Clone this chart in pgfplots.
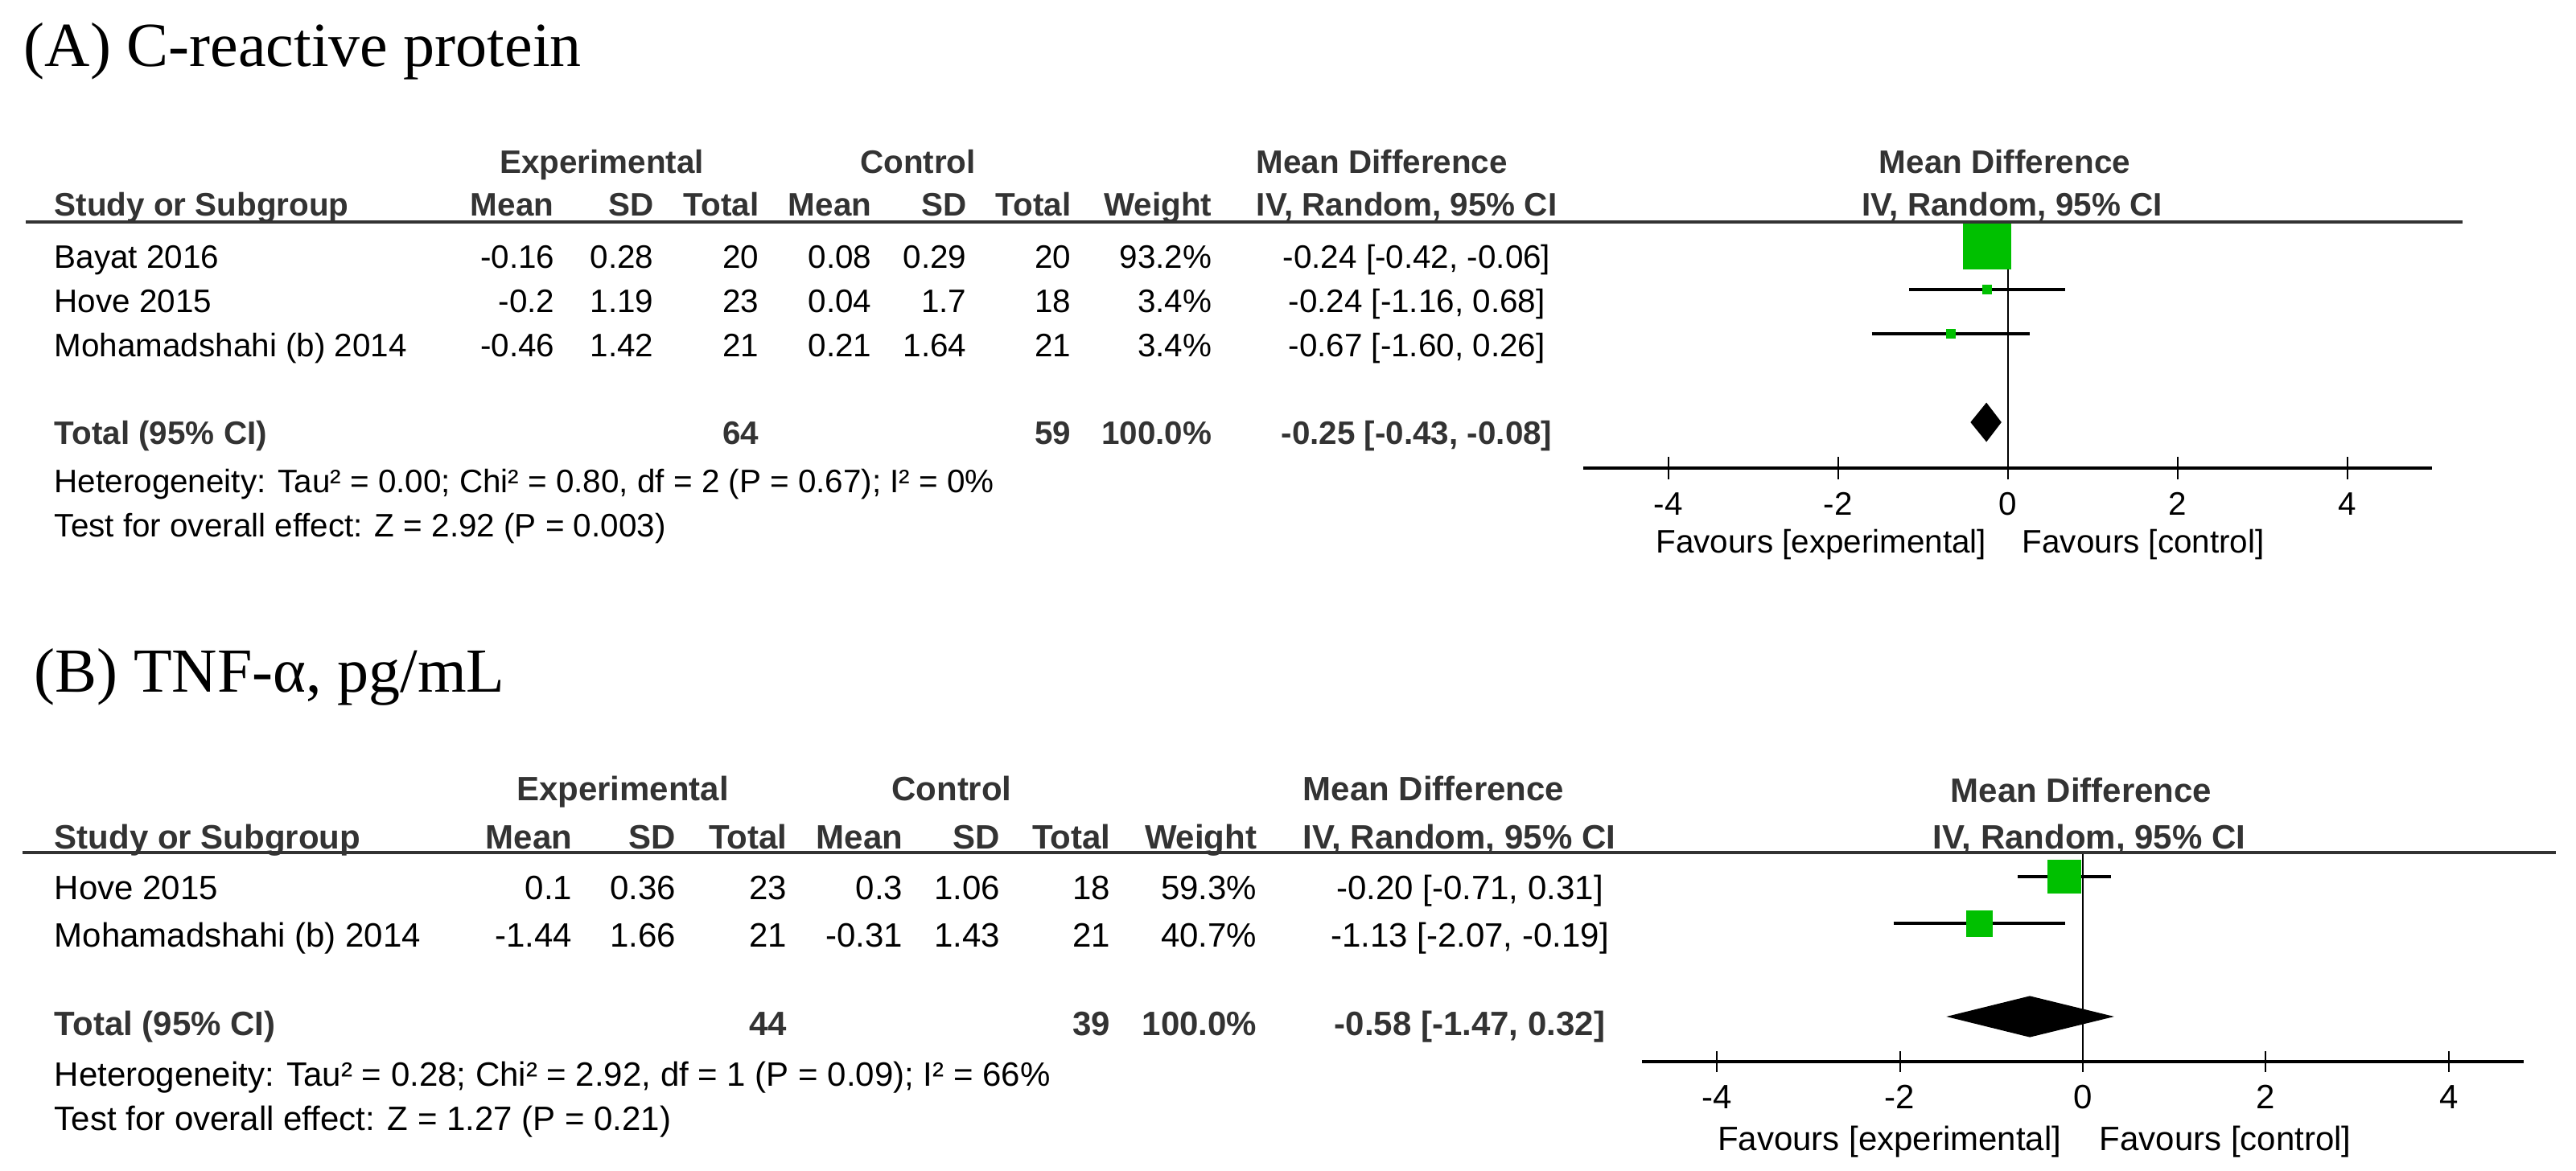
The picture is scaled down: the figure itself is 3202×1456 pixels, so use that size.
\documentclass[border=0pt]{standalone}
\usepackage{fontspec}
\setmainfont{Liberation Sans}
\newfontfamily\ttlfont{Liberation Serif}
\usepackage{pgfplots}
\pgfplotsset{compat=1.18}
\definecolor{rmgreen}{HTML}{00C000}
\definecolor{hdr}{HTML}{333333}
\newcommand{\fa}{\fontsize{10.1}{12}\selectfont}
\newcommand{\fb}{\fontsize{10.5}{12.5}\selectfont}
% 1 px of the reference = 0.25pt
\pgfplotsset{
  forest/.style={
    scale only axis, clip=false,
    axis x line*=bottom, axis y line=none,
    x axis line style={line width=1pt, -},
    xtick={-4,-2,0,2,4}, xticklabels={-4,-2,0,2,4},
    tick align=center,
    tick style={line width=0.5pt, black},
    xticklabel style={anchor=base},
  },
  ci/.style={black, line width=1pt, mark=none},
  box/.style={rmgreen, only marks, mark=square*, mark options={fill=rmgreen, draw=rmgreen, line width=0pt}},
  dia/.style={fill=black, draw=black, line width=0.3pt, mark=none},
}
\begin{document}
\begin{tikzpicture}
% ---------------- panel A plot ----------------
\begin{axis}[forest, at={(1968*0.25pt,-582*0.25pt)}, anchor=south west,
  width=263.75pt, height=76.5pt, xmin=-5, xmax=5, ymin=-6.036, ymax=-0.4727,
  major tick length=7pt, xticklabel style={font=\fa, yshift=-11pt}]
\draw[line width=0.5pt] (axis cs:0,-0.4727) -- (axis cs:0,-6.036);
\addplot[ci] coordinates {(-0.42,-1) (-0.06,-1)};
\addplot[ci] coordinates {(-1.16,-2) (0.68,-2)};
\addplot[ci] coordinates {(-1.60,-3) (0.26,-3)};
\addplot[box, mark size=7.375pt] coordinates {(-0.24,-1)};
\addplot[box, mark size=1.35pt] coordinates {(-0.24,-2)};
\addplot[box, mark size=1.35pt] coordinates {(-0.67,-3)};
\addplot[dia] coordinates {(-0.43,-5) (-0.25,-4.573) (-0.08,-5) (-0.25,-5.427)} -- cycle;
\end{axis}
% ---------------- panel B plot ----------------
\begin{axis}[forest, at={(2041*0.25pt,-1320*0.25pt)}, anchor=south west,
  width=274pt, height=65pt, xmin=-4.82, xmax=4.82, ymin=-4.9655, ymax=-0.4828,
  major tick length=6.5pt, xticklabel style={font=\fb, yshift=-11.25pt}]
\draw[line width=0.5pt] (axis cs:0,-0.4828) -- (axis cs:0,-4.9655);
\addplot[ci] coordinates {(-0.71,-1) (0.31,-1)};
\addplot[ci] coordinates {(-2.07,-2) (-0.19,-2)};
\addplot[box, mark size=5.125pt] coordinates {(-0.20,-1)};
\addplot[box, mark size=4pt] coordinates {(-1.13,-2)};
\addplot[dia] coordinates {(-1.47,-4) (-0.58,-3.569) (0.32,-4) (-0.58,-4.431)} -- cycle;
\end{axis}

\begin{scope}[x=0.25pt, y=-0.25pt, every node/.style={inner sep=0pt}]
% ================= panel A text =================
\node[anchor=base west, font=\ttlfont\fontsize{19.5}{23}\selectfont] at (29,82) {(A) C-reactive protein};
\begin{scope}[every node/.append style={font=\fa\bfseries, text=hdr}]
\node[anchor=base] at (748,215) {Experimental};
\node[anchor=base] at (1141,215) {Control};
\node[anchor=base west] at (1561,215) {Mean Difference};
\node[anchor=base] at (2492,215) {Mean Difference};
\node[anchor=base west] at (67,268) {Study or Subgroup};
\node[anchor=base east] at (689,268) {Mean};
\node[anchor=base east] at (813,268) {SD};
\node[anchor=base east] at (944,268) {Total};
\node[anchor=base east] at (1084,268) {Mean};
\node[anchor=base east] at (1202,268) {SD};
\node[anchor=base east] at (1332,268) {Total};
\node[anchor=base east] at (1507,268) {Weight};
\node[anchor=base west] at (1561,268) {IV, Random, 95\% CI};
\node[anchor=base] at (2501,268) {IV, Random, 95\% CI};
\node[anchor=base west] at (67,552) {Total (95\% CI)};
\node[anchor=base east] at (944,552) {64};
\node[anchor=base east] at (1332,552) {59};
\node[anchor=base east] at (1507,552) {100.0\%};
\node[anchor=base] at (1761,552) {-0.25 [-0.43, -0.08]};
\end{scope}
\draw[line width=1pt, hdr] (32,276) -- (3061,276);
\begin{scope}[every node/.append style={font=\fa}]
\node[anchor=base west] at (67,333) {Bayat 2016};
\node[anchor=base east] at (690,333) {-0.16};
\node[anchor=base east] at (813,333) {0.28};
\node[anchor=base east] at (944,333) {20};
\node[anchor=base east] at (1084,333) {0.08};
\node[anchor=base east] at (1202,333) {0.29};
\node[anchor=base east] at (1332,333) {20};
\node[anchor=base east] at (1507,333) {93.2\%};
\node[anchor=base] at (1761,333) {-0.24 [-0.42, -0.06]};
\node[anchor=base west] at (67,388) {Hove 2015};
\node[anchor=base east] at (690,388) {-0.2};
\node[anchor=base east] at (813,388) {1.19};
\node[anchor=base east] at (944,388) {23};
\node[anchor=base east] at (1084,388) {0.04};
\node[anchor=base east] at (1202,388) {1.7};
\node[anchor=base east] at (1332,388) {18};
\node[anchor=base east] at (1507,388) {3.4\%};
\node[anchor=base] at (1761,388) {-0.24 [-1.16, 0.68]};
\node[anchor=base west] at (67,443) {Mohamadshahi (b) 2014};
\node[anchor=base east] at (690,443) {-0.46};
\node[anchor=base east] at (813,443) {1.42};
\node[anchor=base east] at (944,443) {21};
\node[anchor=base east] at (1084,443) {0.21};
\node[anchor=base east] at (1202,443) {1.64};
\node[anchor=base east] at (1332,443) {21};
\node[anchor=base east] at (1507,443) {3.4\%};
\node[anchor=base] at (1761,443) {-0.67 [-1.60, 0.26]};
\node[anchor=base west] at (67,612) {Heterogeneity: Tau² = 0.00; Chi² = 0.80, df = 2 (P = 0.67); I² = 0\%};
\node[anchor=base west] at (67,667) {Test for overall effect: Z = 2.92 (P = 0.003)};
\node[anchor=base east] at (2470,687) {Favours [experimental]};
\node[anchor=base west] at (2513,687) {Favours [control]};
\end{scope}
% ================= panel B text =================
\node[anchor=base west, font=\ttlfont\fontsize{19.5}{23}\selectfont] at (42,860) {(B) TNF-α, pg/mL};
\begin{scope}[every node/.append style={font=\fb\bfseries, text=hdr}]
\node[anchor=base] at (774,995) {Experimental};
\node[anchor=base] at (1183,995) {Control};
\node[anchor=base west] at (1619,995) {Mean Difference};
\node[anchor=base] at (2587,997) {Mean Difference};
\node[anchor=base west] at (67,1055) {Study or Subgroup};
\node[anchor=base east] at (712,1055) {Mean};
\node[anchor=base east] at (841,1055) {SD};
\node[anchor=base east] at (979,1055) {Total};
\node[anchor=base east] at (1123,1055) {Mean};
\node[anchor=base east] at (1244,1055) {SD};
\node[anchor=base east] at (1381,1055) {Total};
\node[anchor=base east] at (1563,1055) {Weight};
\node[anchor=base west] at (1619,1055) {IV, Random, 95\% CI};
\node[anchor=base] at (2597,1055) {IV, Random, 95\% CI};
\node[anchor=base west] at (67,1287) {Total (95\% CI)};
\node[anchor=base east] at (979,1287) {44};
\node[anchor=base east] at (1381,1287) {39};
\node[anchor=base east] at (1563,1287) {100.0\%};
\node[anchor=base] at (1827,1287) {-0.58 [-1.47, 0.32]};
\end{scope}
\draw[line width=1pt, hdr] (28,1060) -- (3177,1060);
\begin{scope}[every node/.append style={font=\fb}]
\node[anchor=base west] at (67,1118) {Hove 2015};
\node[anchor=base east] at (712,1118) {0.1};
\node[anchor=base east] at (841,1118) {0.36};
\node[anchor=base east] at (979,1118) {23};
\node[anchor=base east] at (1123,1118) {0.3};
\node[anchor=base east] at (1244,1118) {1.06};
\node[anchor=base east] at (1381,1118) {18};
\node[anchor=base east] at (1563,1118) {59.3\%};
\node[anchor=base] at (1827,1118) {-0.20 [-0.71, 0.31]};
\node[anchor=base west] at (67,1177) {Mohamadshahi (b) 2014};
\node[anchor=base east] at (712,1177) {-1.44};
\node[anchor=base east] at (841,1177) {1.66};
\node[anchor=base east] at (979,1177) {21};
\node[anchor=base east] at (1123,1177) {-0.31};
\node[anchor=base east] at (1244,1177) {1.43};
\node[anchor=base east] at (1381,1177) {21};
\node[anchor=base east] at (1563,1177) {40.7\%};
\node[anchor=base] at (1827,1177) {-1.13 [-2.07, -0.19]};
\node[anchor=base west] at (67,1350) {Heterogeneity: Tau² = 0.28; Chi² = 2.92, df = 1 (P = 0.09); I² = 66\%};
\node[anchor=base west] at (67,1405) {Test for overall effect: Z = 1.27 (P = 0.21)};
\node[anchor=base east] at (2563,1430) {Favours [experimental]};
\node[anchor=base west] at (2609,1430) {Favours [control]};
\end{scope}
\pgfresetboundingbox
\path[use as bounding box] (0,0) rectangle (3202,1456);
\end{scope}
\end{tikzpicture}
\end{document}
